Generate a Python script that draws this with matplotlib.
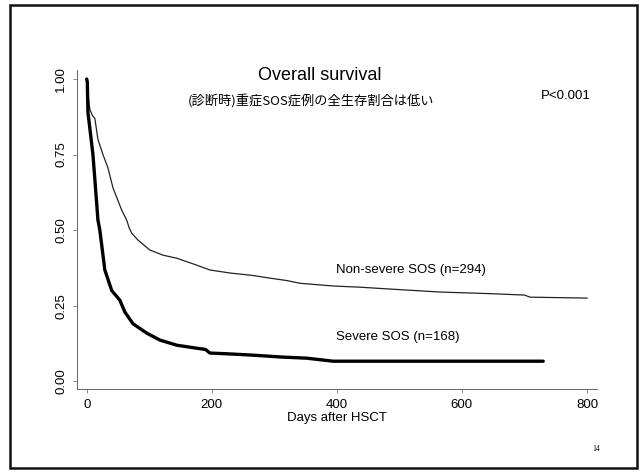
import matplotlib.pyplot as plt
from matplotlib.patches import Rectangle

plt.rcParams['font.family'] = ['Liberation Sans', 'Noto Sans CJK JP', 'DejaVu Sans']

# Kaplan-Meier curves (days after HSCT, survival)
days_nonsevere = [0, 2, 5, 9, 13, 18, 26, 34, 42, 56, 64, 68, 72, 82, 101, 122, 144, 176, 197,
                  229, 265, 293, 320, 341, 394, 437, 500, 565, 640, 700, 709, 800]
surv_nonsevere = [1.0, 0.95, 0.90, 0.88, 0.87, 0.80, 0.75, 0.706, 0.64, 0.566, 0.533, 0.507,
                  0.49, 0.467, 0.434, 0.417, 0.407, 0.384, 0.368, 0.358, 0.35, 0.341, 0.333,
                  0.324, 0.315, 0.311, 0.303, 0.295, 0.29, 0.285, 0.278, 0.275]

days_severe = [0, 1, 2, 10, 18, 21, 29, 40, 53, 61, 74, 96, 117, 144, 176, 190, 197, 230, 266,
               310, 352, 394, 500, 600, 730]
surv_severe = [1.0, 0.99, 0.89, 0.75, 0.533, 0.50, 0.368, 0.30, 0.268, 0.229, 0.19, 0.159,
               0.136, 0.119, 0.109, 0.105, 0.093, 0.09, 0.086, 0.08, 0.076, 0.066, 0.066,
               0.066, 0.066]

x_ticks = [0, 200, 400, 600, 800]
y_ticks = [0.0, 0.25, 0.50, 0.75, 1.00]

fig = plt.figure(figsize=(6.4, 4.71), dpi=100)
fig.patches.append(Rectangle((10 / 640, 3 / 471), 627 / 640, 463 / 471, transform=fig.transFigure,
                             fill=False, edgecolor='#111111', linewidth=1.8))

ax = fig.add_axes([77 / 640, 1 - 389 / 471, 520 / 640, 319 / 471])
ax.plot(days_nonsevere, surv_nonsevere, color='#222222', linewidth=0.9)
ax.plot(days_severe, surv_severe, color='black', linewidth=2.4, solid_capstyle='round')

ax.set_xlim(-15.5, 816)
ax.set_ylim(-0.026, 1.03)
ax.set_xticks(x_ticks)
ax.set_yticks(y_ticks)
ax.set_yticklabels(['0.00', '0.25', '0.50', '0.75', '1.00'], rotation=90, va='center')
ax.tick_params(labelsize=9.5, length=3, width=0.6, color='#777777', pad=4)
for s in ['top', 'right']:
    ax.spines[s].set_visible(False)
for s in ['left', 'bottom']:
    ax.spines[s].set_linewidth(0.7)
    ax.spines[s].set_color('#666666')
ax.set_xlabel('Days after HSCT', fontsize=9.5, labelpad=1)

fig.text(0.5, 1 - 75 / 471, 'Overall survival', ha='center', va='center', fontsize=13)
fig.text(0.486, 1 - 102 / 471, '(診断時)重症SOS症例の全生存割合は低い', ha='center', va='center',
         fontsize=9.5, family=['Noto Sans CJK JP', 'DejaVu Sans'])
fig.text(541 / 640, 1 - 96 / 471, 'P<0.001', ha='left', va='center', fontsize=9.5)
fig.text(336 / 640, 1 - 270 / 471, 'Non-severe SOS (n=294)', ha='left', va='center', fontsize=9.5)
fig.text(336 / 640, 1 - 337 / 471, 'Severe SOS (n=168)', ha='left', va='center', fontsize=9.5)
fig.text(596 / 640, 1 - 449 / 471, '14', ha='center', va='center', fontsize=5.5, family='Liberation Serif')

fig.savefig('out.png', dpi=100)
